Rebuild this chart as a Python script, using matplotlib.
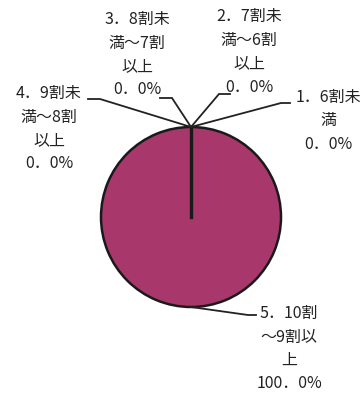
import numpy as np
import matplotlib.pyplot as plt

plt.rcParams['font.family'] = ['Noto Sans CJK JP', 'DejaVu Sans']

# data
categories = ['1．6割未満', '2．7割未満～6割以上', '3．8割未満～7割以上',
              '4．9割未満～8割以上', '5．10割～9割以上']
values = [0.0, 0.0, 0.0, 0.0, 100.0]
slice_color = '#A8386B'

W, H = 364, 397
CX, CY, R = 191, 217, 90  # pie centre and radius in pixels


def px(x, y):
    """pixel position -> data coords (pie radius = 1)"""
    return (x - CX) / R, (CY - y) / R


def wrap(s, width=4.0):
    """wrap label, full-width chars count 1, ascii 0.5"""
    lines, cur, w = [], '', 0.0
    for ch in s:
        cw = 0.5 if ord(ch) < 128 else 1.0
        if w + cw > width:
            lines.append(cur)
            cur, w = '', 0.0
        cur += ch
        w += cw
    lines.append(cur)
    return '\n'.join(lines)


# label layout: text centre x, text top y, elbow x, elbow y, line end x (pixels)
label_pos = [
    (328, 89, 281, 103, 290),
    (249, 8, 219, 94, 230),
    (137, 11, 172, 98, 160),
    (49, 85, 100, 99, 88),
    (289, 305, 248, 315, 256),
]

fig = plt.figure(figsize=(W / 100, H / 100), dpi=100)
ax = fig.add_axes([0, 0, 1, 1])

total = sum(values)
wedges, _ = ax.pie(values, startangle=90, counterclock=False,
                   colors=[slice_color] * len(values),
                   wedgeprops=dict(edgecolor='#1a1a1a', linewidth=1.8))

# radial edge where the zero slices sit
start = np.deg2rad(wedges[-1].theta2)
ax.plot([0, np.cos(start)], [0, np.sin(start)], color='#1a1a1a', lw=2.4)

for wdg, name, v, pos in zip(wedges, categories, values, label_pos):
    mid = np.deg2rad((wdg.theta1 + wdg.theta2) / 2)
    ax_, ay_ = np.cos(mid), np.sin(mid)
    tx, ty, ex, ey, lx = pos
    exd, eyd = px(ex, ey)
    lxd, _ = px(lx, ey)
    ax.plot([ax_, exd, lxd], [ay_, eyd, eyd], color='#222222', lw=1.3,
            solid_joinstyle='miter')
    pct = f'{v / total * 100:.1f}%'.replace('.', '．')
    txd, tyd = px(tx, ty)
    ax.text(txd, tyd, wrap(name) + '\n' + pct, ha='center', va='top',
            multialignment='center', fontsize=11.5, linespacing=1.5,
            color='#222222')

ax.set_xlim(-CX / R, (W - CX) / R)
ax.set_ylim(-(H - CY) / R, CY / R)
ax.set_aspect('auto')
ax.axis('off')

fig.savefig('out.png', dpi=100, facecolor='white')
